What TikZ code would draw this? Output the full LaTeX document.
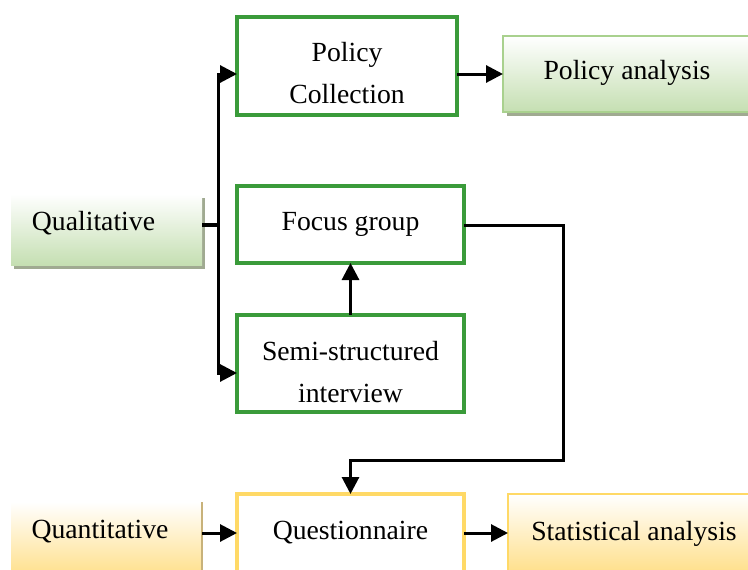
\documentclass[tikz,border=0pt]{standalone}
\usepackage{fontspec}
\setmainfont{Liberation Serif}
\usetikzlibrary{arrows.meta}
\definecolor{gbord}{RGB}{58,155,58}
\definecolor{gfill}{RGB}{197,223,178}
\definecolor{gline}{RGB}{169,209,142}
\definecolor{gshad}{RGB}{160,170,145}
\definecolor{yfill}{RGB}{255,224,140}
\definecolor{yline}{RGB}{255,217,102}
\definecolor{tanline}{RGB}{200,178,122}
\begin{document}
\begin{tikzpicture}[x=1pt,y=-1pt,
  font=\fontsize{27.7}{42}\selectfont,
  base/.style={rectangle, inner sep=0pt, outer sep=0pt, anchor=north west, align=center},
  gbox/.style={base, draw=gbord, line width=3.2pt, fill=white},
  ybox/.style={base, draw=yline, line width=3.2pt, fill=white},
  gshade/.style={base, top color=white, bottom color=gfill},
  yshade/.style={base, top color=white, bottom color=yfill},
  txt/.style={inner sep=0pt, anchor=base},
  conn/.style={line width=3.5pt},
  arr/.style={line width=3pt, -{Triangle[length=17pt,width=17pt]}}]
\useasboundingbox (0,0) rectangle (748,570);
% Qualitative
\fill[gshad] (14,198) rectangle (205,269);
\node[gshade, minimum width=191pt, minimum height=71pt] (qual) at (11,194) {};
\node[txt] (qualt) at (93.5,230) {Qualitative};
% Policy collection
\node[gbox, minimum width=220pt, minimum height=98pt] (pc) at (237,17) {};
\node[txt] (pct1) at (347,61) {Policy};
\node[txt] (pct2) at (347,103) {Collection};
% Policy analysis
\fill[gshad] (507,40) rectangle (760,116);
\node[gshade, draw=gline, line width=2pt, minimum width=250pt, minimum height=76pt] (pa) at (503,36) {};
\node[txt] (pat) at (627,79) {Policy analysis};
% Focus group
\node[gbox, minimum width=227pt, minimum height=77pt] (fg) at (237,186) {Focus group};
% Semi-structured
\node[gbox, minimum width=227pt, minimum height=97pt] (ssi) at (237,315) {};
\node[txt] (ssit1) at (350.5,360) {Semi-structured};
\node[txt] (ssit2) at (350.5,402) {interview};
% Quantitative
\node[yshade, minimum width=191pt, minimum height=73pt] (quant) at (11,502) {};
\draw[tanline, line width=1.5pt] (quant.north east) -- (quant.south east);
\node[txt] (quantt) at (100,538) {Quantitative};
% Questionnaire
\node[ybox, minimum width=227pt, minimum height=78pt] (qn) at (237,494) {Questionnaire};
% Statistical analysis
\node[yshade, draw=yline, line width=2pt, minimum width=252pt, minimum height=78pt] (sa) at (508,494) {};
\node[txt] (sat) at (634,540) {Statistical analysis};
% connectors
\coordinate (trunk) at (218,225);
\draw[conn] (qual.east |- trunk) -- (trunk);
\draw[arr] (trunk) |- ([yshift=-8pt]pc.west);
\draw[arr] (trunk) |- ([yshift=-9.5pt]ssi.west);
\draw[arr] ([yshift=-8pt]pc.east) -- ([yshift=-8pt]pc.east -| pa.west);
\draw[arr] (ssi.north) -- (fg.south);
\coordinate (r1) at (563,225);
\coordinate (r2) at (563,460);
\draw[arr] (fg.east |- r1) -- (r1) -- (r2) -| (qn.north);
\draw[arr] (quant.east |- qn.west) -- (qn.west);
\draw[arr] (qn.east) -- (qn.east -| sa.west);
\end{tikzpicture}
\end{document}
